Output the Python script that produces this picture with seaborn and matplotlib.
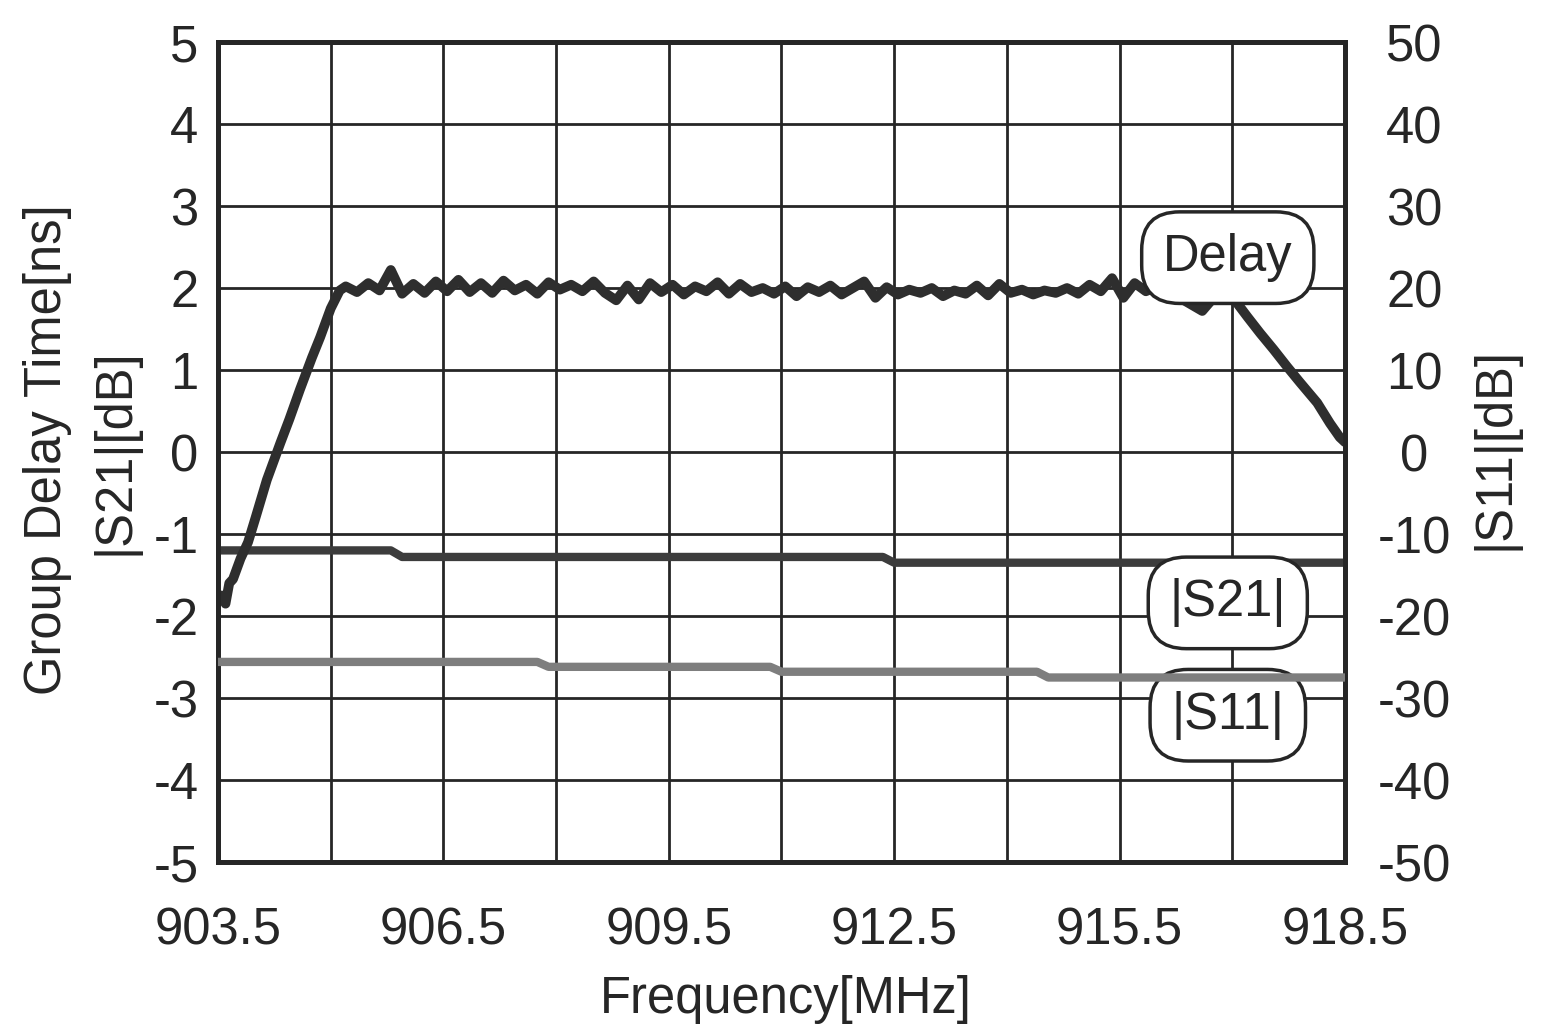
import numpy as np
import pandas as pd
import matplotlib
matplotlib.use("Agg")
import matplotlib.pyplot as plt
import seaborn as sns

# ---- data ----
delay_freq = [
    903.55, 903.60, 903.65, 903.70, 903.80, 903.90, 904.00, 904.15, 904.33, 904.45,
    904.59, 904.75, 904.86, 905.00, 905.12,
    905.20, 905.35, 905.50, 905.65, 905.80, 905.95, 906.10, 906.25, 906.40, 906.55,
    906.70, 906.85, 907.00, 907.15, 907.30, 907.45, 907.60, 907.75, 907.90, 908.05,
    908.20, 908.35, 908.50, 908.65, 908.80, 908.95, 909.10, 909.25, 909.40, 909.55,
    909.70, 909.85, 910.00, 910.15, 910.30, 910.45, 910.60, 910.75, 910.90, 911.05,
    911.20, 911.35, 911.50, 911.65, 911.80, 911.95, 912.10, 912.25, 912.40, 912.55,
    912.70, 912.85, 913.00, 913.15, 913.30, 913.45, 913.60, 913.75, 913.90, 914.05,
    914.20, 914.35, 914.50, 914.65, 914.80, 914.95, 915.10, 915.25, 915.40, 915.55,
    915.70, 915.85, 916.00, 916.15, 916.30, 916.45, 916.60, 916.75, 916.90,
    917.06, 917.20, 917.37, 917.55, 917.73, 917.90, 918.13, 918.30, 918.43, 918.50,
]
delay_ns = [
    -1.75, -1.85, -1.60, -1.55, -1.30, -1.10, -0.80, -0.34, 0.11, 0.40,
    0.76, 1.15, 1.40, 1.75, 1.97,
    2.02, 1.95, 2.06, 1.97, 2.22, 1.93, 2.05, 1.94, 2.08, 1.96,
    2.10, 1.95, 2.06, 1.94, 2.09, 1.97, 2.04, 1.93, 2.07, 1.98,
    2.04, 1.96, 2.08, 1.94, 1.85, 2.03, 1.86, 2.06, 1.95, 2.04,
    1.92, 2.02, 1.96, 2.07, 1.93, 2.05, 1.95, 2.00, 1.93, 2.02,
    1.90, 2.01, 1.95, 2.03, 1.92, 2.00, 2.08, 1.88, 2.01, 1.92,
    1.98, 1.94, 2.00, 1.90, 1.97, 1.93, 2.03, 1.91, 2.05, 1.94,
    1.98, 1.92, 1.97, 1.94, 2.00, 1.93, 2.04, 1.96, 2.12, 1.88,
    2.06, 1.96, 2.02, 1.92, 1.88, 1.80, 1.72, 1.88, 1.90,
    1.82, 1.65, 1.45, 1.25, 1.04, 0.85, 0.60, 0.35, 0.18, 0.12,
]

s21_freq = [903.5, 905.80, 905.95, 912.35, 912.50, 918.5]
s21_db = [-1.20, -1.20, -1.28, -1.28, -1.35, -1.35]

s11_freq = [903.5, 907.75, 907.90, 910.85, 911.00, 914.40, 914.55, 918.5]
s11_db = [-25.6, -25.6, -26.2, -26.2, -26.8, -26.8, -27.5, -27.5]

x_ticks = [903.5, 906.5, 909.5, 912.5, 915.5, 918.5]
x_grid = [905.0, 908.0, 911.0, 914.0, 917.0]
left_ticks = [-5, -4, -3, -2, -1, 0, 1, 2, 3, 4, 5]
right_ticks = [-50, -40, -30, -20, -10, 0, 10, 20, 30, 40, 50]

# ---- style ----
sns.set_style("white")
plt.rcParams["font.family"] = ["Liberation Sans", "DejaVu Sans"]
FS = 36.5
INK = "#262626"

W, H = 1551, 1032
fig = plt.figure(figsize=(W / 100, H / 100), dpi=100)
ax = fig.add_axes([218 / W, 1 - 862 / H, (1345 - 218) / W, (862 - 42) / H])
ax2 = ax.twinx()

df_delay = pd.DataFrame({"freq": delay_freq, "val": delay_ns})
df_s21 = pd.DataFrame({"freq": s21_freq, "val": s21_db})
df_s11 = pd.DataFrame({"freq": s11_freq, "val": s11_db})

sns.lineplot(data=df_s21, x="freq", y="val", ax=ax, sort=False,
             color="#3c3c3c", lw=6, zorder=3)
sns.lineplot(data=df_delay, x="freq", y="val", ax=ax, sort=False,
             color="#2e2e2e", lw=7, zorder=4, solid_joinstyle="round")
sns.lineplot(data=df_s11, x="freq", y="val", ax=ax2, sort=False,
             color="#7e7e7e", lw=6, zorder=3)

ax.set_xlim(903.5, 918.5)
ax.set_ylim(-5, 5)
ax2.set_ylim(-50, 50)

ax.set_xticks(x_ticks)
ax.set_xticks(x_grid, minor=True)
ax.set_yticks(left_ticks)
ax2.set_yticks(right_ticks)

ax.grid(True, which="both", axis="x", color=INK, lw=2.0)
ax.grid(True, which="major", axis="y", color=INK, lw=2.0)
ax.set_axisbelow(True)
ax2.grid(False)

for a in (ax, ax2):
    for sp in a.spines.values():
        sp.set_color(INK)
        sp.set_linewidth(3.5)

ax.tick_params(axis="both", which="both", length=0, labelsize=FS, colors=INK)
ax.tick_params(axis="x", pad=32)
ax.tick_params(axis="y", pad=14)
ax2.tick_params(axis="y", length=0, labelsize=FS, colors=INK, pad=50)
ax.set_yticklabels([str(v) for v in left_ticks])
ax2.set_yticklabels([str(v) for v in right_ticks])
for lab in ax2.get_yticklabels():
    lab.set_ha("center")
ax.set_xticklabels([f"{v:.1f}" for v in x_ticks])

ax.set_xlabel("")
ax.set_ylabel("")
ax2.set_ylabel("")

fig.text(786 / W, 1 - 1000 / H, "Frequency[MHz]", ha="center", va="center",
         fontsize=FS, color=INK)
fig.text(48 / W, 1 - 450 / H, "Group Delay Time[ns]", ha="center", va="center",
         rotation=90, fontsize=FS, color=INK)
fig.text(115 / W, 1 - 452 / H, "|S21|[dB]", ha="center", va="center",
         rotation=90, fontsize=FS, color=INK)
fig.text(1495 / W, 1 - 448 / H, "|S11|[dB]", ha="center", va="center",
         rotation=90, fontsize=FS, color=INK)

box = dict(boxstyle="round,pad=0.42,rounding_size=0.75", fc="white",
           ec=INK, lw=2.5)
for label, yv in [("Delay", 2.37), ("|S21|", -1.84), ("|S11|", -3.21)]:
    ax.text(916.94, yv, label, ha="center", va="center", fontsize=FS,
            color=INK, bbox=box, zorder=10)

fig.savefig("out.png", dpi=100, facecolor="white")
